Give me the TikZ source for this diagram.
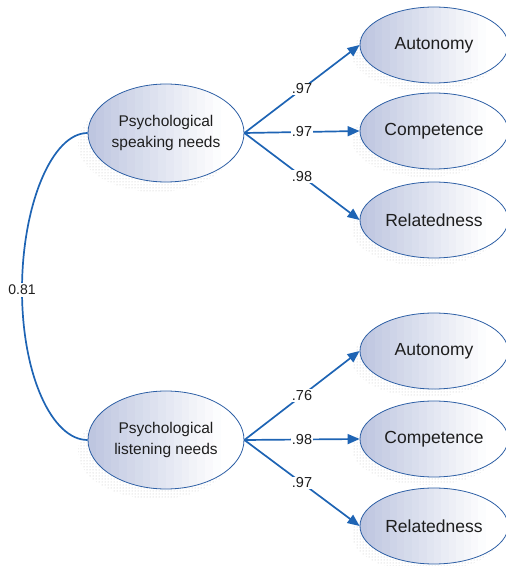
\documentclass[tikz,border=0pt]{standalone}
\usepackage{fontspec}
\setmainfont{Liberation Sans}
\usetikzlibrary{shapes.geometric,arrows.meta,patterns}
\definecolor{lineblue}{RGB}{30,100,180}
\definecolor{edgeblue}{RGB}{45,95,165}
\definecolor{ellfill}{RGB}{190,198,224}
\definecolor{txt}{RGB}{30,30,30}
\tikzset{
  latent/.style={ellipse, draw=edgeblue, line width=0.8pt, inner sep=0pt,
    minimum width=156pt, minimum height=98pt, text=txt, align=center,
    font=\fontsize{15.5}{21}\selectfont},
  observed/.style={ellipse, draw=edgeblue, line width=0.8pt, inner sep=0pt,
    minimum width=148pt, minimum height=76pt, text=txt, font=\fontsize{17.5}{20}\selectfont},
  shadowsty/.style={pattern=dots, pattern color=gray!50},
  pathsty/.style={draw=lineblue, line width=1.7pt, -{Triangle[length=12pt,width=10pt]}},
  coef/.style={fill=white, inner sep=1.2pt, text=txt, font=\fontsize{14.5}{16}\selectfont},
}
% gradient fill of an ellipse: centre x, centre y, x radius, y radius
\newcommand{\gradell}[4]{%
  \begin{scope}
    \clip (#1,#2) ellipse [x radius=#3pt, y radius=#4pt];
    \foreach \i in {0,...,19}{
      \pgfmathtruncatemacro{\pc}{max(0,100-6*\i)}
      \fill[ellfill!\pc!white] (#1-#3+\i*#3/10, #2-#4-1) rectangle ++(#3/10+0.8, 2*#4+2);
    }
  \end{scope}}
\begin{document}
\begin{tikzpicture}[x=1pt,y=1pt]
\useasboundingbox (0,0) rectangle (506,566);
% shadows
\foreach \cx/\cy in {434/521,434/435,434/346,434/215,434/127,434/40}{
  \path[shadowsty] (\cx-8,\cy-9) ellipse [x radius=74pt, y radius=37pt];
  \gradell{\cx}{\cy}{74}{38}
}
\foreach \cx/\cy in {166/433,166/126}{
  \path[shadowsty] (\cx-10,\cy-11) ellipse [x radius=78pt, y radius=48pt];
  \gradell{\cx}{\cy}{78}{49}
}
% latent nodes
\node[latent] (L1) at (166,433) {Psychological\\speaking needs};
\node[latent] (L2) at (166,126) {Psychological\\listening needs};
% observed nodes
\node[observed] (A1) at (434,521) {Autonomy};
\node[observed] (C1) at (434,435) {Competence};
\node[observed] (R1) at (434,346) {Relatedness};
\node[observed] (A2) at (434,215) {Autonomy};
\node[observed] (C2) at (434,127) {Competence};
\node[observed] (R2) at (434,40) {Relatedness};
% paths
\draw[pathsty] (L1.east) -- node[coef] (p1) {.97} (A1.west);
\draw[pathsty] (L1.east) -- node[coef] (p2) {.97} (C1.west);
\draw[pathsty] (L1.east) -- node[coef] (p3) {.98} (R1.west);
\draw[pathsty] (L2.east) -- node[coef] (p4) {.76} (A2.west);
\draw[pathsty] (L2.east) -- node[coef] (p5) {.98} (C2.west);
\draw[pathsty] (L2.east) -- node[coef] (p6) {.97} (R2.west);
% correlation
\draw[draw=lineblue, line width=1.7pt] (L1.west) .. controls (52,433) and (22,361) .. (22,276)
  node[fill=white, inner sep=2pt, text=txt, font=\fontsize{14}{15}\selectfont] (corr) {0.81}
  .. controls (22,191) and (52,126) .. (L2.west);
\end{tikzpicture}
\end{document}
